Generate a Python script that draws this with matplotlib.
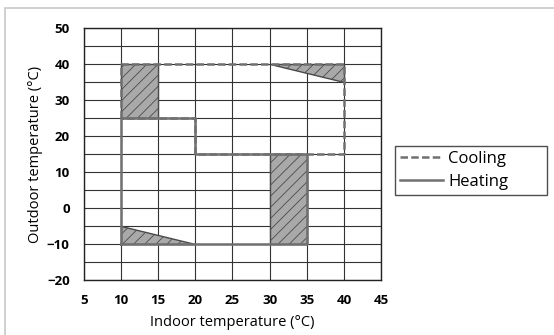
import matplotlib
matplotlib.use("Agg")
import matplotlib.pyplot as plt
from matplotlib.patches import Polygon, Rectangle
from matplotlib.lines import Line2D

# ── Data ──────────────────────────────────────────────────────────────────────
x_ticks = [5, 10, 15, 20, 25, 30, 35, 40, 45]
y_ticks = [-20, -10, 0, 10, 20, 30, 40, 50]

cooling_x = [10, 10, 40, 40, 20, 20, 10]
cooling_y = [25, 40, 40, 15, 15, 25, 25]

heating_x = [10, 10, 20, 20, 35, 35, 10]
heating_y = [-10, 25, 25, 15, 15, -10, -10]

# hatched (extended) zones
hatch_zones = [
    [(10, 25), (10, 40), (15, 40), (15, 25)],
    [(30, 40), (40, 40), (40, 35)],
    [(30, -10), (30, 15), (35, 15), (35, -10)],
    [(10, -5), (10, -10), (20, -10)],
]

plt.rcParams["font.family"] = ["Open Sans", "DejaVu Sans"]
plt.rcParams["hatch.linewidth"] = 0.6

fig = plt.figure(figsize=(5.54, 3.35), dpi=100)
fig.patches.append(Rectangle((5 / 554, -0.1), 1.1, 1.1 - 8 / 335,
                             transform=fig.transFigure, fill=False,
                             edgecolor="#c8c8c8", linewidth=1.2))
ax = fig.add_axes([0.151, 0.164, 0.537, 0.751])

ax.set_xlim(5, 45)
ax.set_ylim(-20, 50)
ax.set_xticks(x_ticks)
ax.set_yticks(y_ticks)
ax.set_yticks(range(-15, 50, 10), minor=True)
ax.tick_params(length=0, labelsize=9.5, pad=10)
ax.tick_params(which="minor", length=0)
for lbl in ax.get_xticklabels() + ax.get_yticklabels():
    lbl.set_fontweight("bold")
ax.grid(which="both", color="#333333", linewidth=0.8)
ax.set_axisbelow(True)
for sp in ax.spines.values():
    sp.set_color("#222222")
    sp.set_linewidth(1.0)

for zone in hatch_zones:
    ax.add_patch(Polygon(zone, closed=True, facecolor="#a9a9a9",
                         edgecolor="#4a4a4a", hatch="///", linewidth=1.0, zorder=2))

line_col = "#707070"
dash = (0, (3.0, 1.3))
ax.plot(heating_x, heating_y, color=line_col, linewidth=1.8, zorder=3)
ax.plot(cooling_x, cooling_y, color=line_col, linewidth=1.8,
        linestyle=dash, zorder=4)

ax.set_xlabel("Indoor temperature (°C)", fontsize=10.5, labelpad=6)
ax.set_ylabel("Outdoor temperature (°C)", fontsize=10.5, labelpad=3)

handles = [
    Line2D([], [], color=line_col, linewidth=1.8, linestyle=dash),
    Line2D([], [], color=line_col, linewidth=1.8),
]
leg = fig.legend(handles, ["Cooling", "Heating"], loc="upper left",
                 bbox_to_anchor=(395 / 554, 1 - 197 / 335, 152 / 554, 51 / 335),
                 mode="expand", fontsize=12,
                 frameon=True, fancybox=False, edgecolor="#222222",
                 handlelength=2.6, handletextpad=0.3, borderpad=0.3,
                 labelspacing=0.4, borderaxespad=0)
leg.get_frame().set_linewidth(1.0)

fig.savefig("out.png", dpi=100)
